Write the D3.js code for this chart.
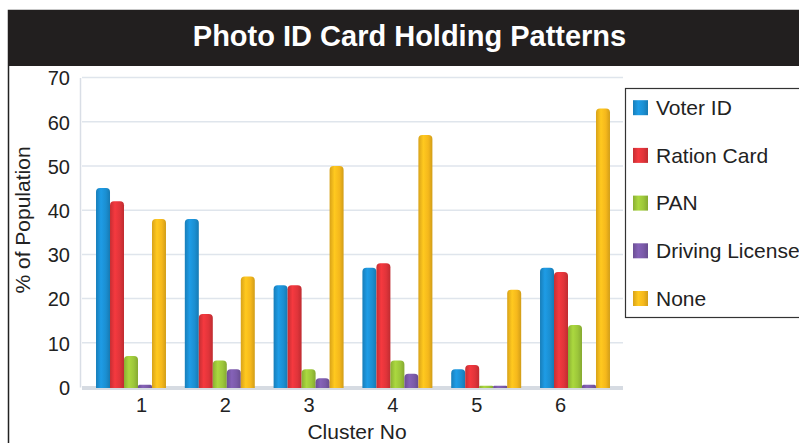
<!DOCTYPE html>
<html>
<head>
<meta charset="utf-8">
<script src="https://cdn.jsdelivr.net/npm/d3@7"></script>
<style>
  html, body { margin: 0; padding: 0; background: #fff; }
  svg { display: block; font-family: "Liberation Sans", Arial, sans-serif; }
</style>
</head>
<body>
<svg id="chart" width="799" height="443"></svg>
<script>
// Cluster categories and the share of population holding each photo ID
const clusters = ["1", "2", "3", "4", "5", "6"];
const seriesNames = ["Voter ID", "Ration Card", "PAN", "Driving License", "None"];
const voterId      = [45, 38, 23, 27, 4, 27];
const rationCard   = [42, 16.5, 23, 28, 5, 26];
const pan          = [7, 6, 4, 6, 0.3, 14];
const drivingLic   = [0.5, 4, 2, 3, 0.3, 0.5];
const noneHeld     = [38, 25, 50, 57, 22, 63];
const yTicks = [0, 10, 20, 30, 40, 50, 60, 70];
const seriesColors = ["#1b8fd2", "#e0343a", "#9cc63a", "#7a5aa8", "#f5b81c"];

const seriesValues = [voterId, rationCard, pan, drivingLic, noneHeld];

const svg = d3.select("#chart");
const W = 799, H = 443;

// outer frame with the dark title banner
svg.append("rect").attr("x", 8.5).attr("y", 10.5).attr("width", W).attr("height", H)
  .attr("fill", "#fff").attr("stroke", "#222").attr("stroke-width", 1.5);
svg.append("rect").attr("x", 8).attr("y", 10).attr("width", W - 8).attr("height", 56)
  .attr("fill", "#221f1f");
svg.append("text").attr("x", 409.5).attr("y", 46).attr("text-anchor", "middle")
  .attr("fill", "#fff").attr("font-size", 29).attr("font-weight", "bold")
  .text("Photo ID Card Holding Patterns");

// scales
const y = d3.scaleLinear().domain([0, 70]).range([387, 77.6]);
const x0 = d3.scaleBand().domain(clusters).range([86.6, 619.4])
  .paddingInner(0.212).paddingOuter(0.106);
const x1 = d3.scaleBand().domain(seriesNames).range([0, x0.bandwidth()]).padding(0);
// category labels sit on a slightly narrower track (perspective of the 3D floor)
const xLabel = d3.scalePoint().domain(clusters).range([141, 560]);

// gradients giving each bar a rounded, cylinder-like shading
const defs = svg.append("defs");
seriesColors.forEach((c, i) => {
  const g = defs.append("linearGradient").attr("id", "grad" + i)
    .attr("x1", "0%").attr("x2", "100%").attr("y1", "0%").attr("y2", "0%");
  const base = d3.color(c);
  g.append("stop").attr("offset", "0%").attr("stop-color", base.darker(0.35));
  g.append("stop").attr("offset", "35%").attr("stop-color", base.brighter(0.25));
  g.append("stop").attr("offset", "70%").attr("stop-color", base);
  g.append("stop").attr("offset", "100%").attr("stop-color", base.darker(0.45));
});

// gridlines
const grid = svg.append("g");
grid.selectAll("line").data(yTicks).join("line")
  .attr("x1", 82).attr("x2", 623)
  .attr("y1", d => y(d)).attr("y2", d => y(d))
  .attr("stroke", "#dfe5ec").attr("stroke-width", 1.5);

// floor under the bars
svg.append("rect").attr("x", 82).attr("y", y(0) - 1).attr("width", 541).attr("height", 4)
  .attr("fill", "#d6dbe2");

// y axis
const yAxis = d3.axisLeft(y).tickValues(yTicks).tickSize(0).tickPadding(10);
const yg = svg.append("g").attr("transform", "translate(80,0)").call(yAxis);
yg.select(".domain").attr("stroke", "#d9dee6").attr("stroke-width", 1.5);
yg.selectAll("text").attr("font-size", 20).attr("fill", "#222")
  .attr("font-family", "Liberation Sans, Arial, sans-serif").attr("dy", "0.36em");

// x axis labels
const xAxis = d3.axisBottom(xLabel).tickSize(0).tickPadding(11);
const xg = svg.append("g").attr("transform", `translate(0,${y(0)})`).call(xAxis);
xg.select(".domain").remove();
xg.selectAll("text").attr("font-size", 20).attr("fill", "#222")
  .attr("font-family", "Liberation Sans, Arial, sans-serif");

// bars with rounded tops
function barPath(xp, w, top, bottom) {
  const r = Math.min(w / 2, 4, (bottom - top) / 2);
  return `M${xp},${bottom}V${top + r}Q${xp},${top} ${xp + r},${top}H${xp + w - r}` +
         `Q${xp + w},${top} ${xp + w},${top + r}V${bottom}Z`;
}
const groups = svg.append("g").selectAll("g").data(clusters).join("g")
  .attr("transform", d => `translate(${x0(d)},0)`);
groups.selectAll("path")
  .data((d, ci) => seriesNames.map((s, si) => ({ s, si, v: seriesValues[si][ci] })))
  .join("path")
  .attr("d", d => barPath(x1(d.s), x1.bandwidth(), y(d.v), y(0) + 1))
  .attr("fill", d => `url(#grad${d.si})`);

// axis titles
svg.append("text").attr("transform", "translate(30,220) rotate(-90)")
  .attr("text-anchor", "middle").attr("font-size", 21).attr("fill", "#222")
  .text("% of Population");
svg.append("text").attr("x", 357).attr("y", 439).attr("text-anchor", "middle")
  .attr("font-size", 21).attr("fill", "#222").text("Cluster No");

// legend
const lg = svg.append("g");
lg.append("rect").attr("x", 625.5).attr("y", 88.5).attr("width", 200).attr("height", 229)
  .attr("fill", "#fff").attr("stroke", "#333").attr("stroke-width", 1.2);
const items = lg.selectAll("g.item").data(seriesNames).join("g").attr("class", "item")
  .attr("transform", (d, i) => `translate(633,${107.7 + i * 47.7})`);
items.append("rect").attr("x", 0).attr("y", -7.5).attr("width", 15).attr("height", 15)
  .attr("fill", (d, i) => `url(#grad${i})`);
items.append("text").attr("x", 23).attr("y", 0).attr("dy", "0.35em")
  .attr("font-size", 21).attr("fill", "#222").text(d => d);
</script>
</body>
</html>
